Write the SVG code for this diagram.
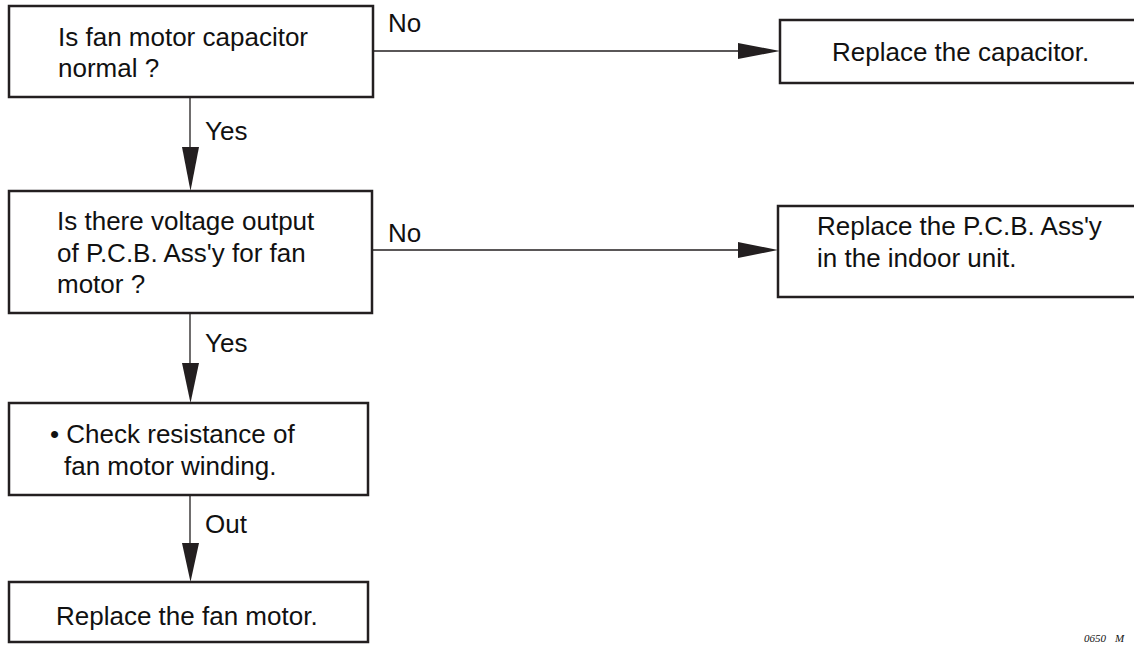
<svg xmlns="http://www.w3.org/2000/svg" width="1134" height="645" viewBox="0 0 1134 645">
<style>
.box{fill:#fff;stroke:#231f20;stroke-width:2.5}
.t{font-family:"Liberation Sans",Arial,sans-serif;font-size:26px;fill:#111}
.ln{stroke:#231f20;stroke-width:1.3;fill:none}
.ah{fill:#231f20}
.code{font-family:"Liberation Serif",serif;font-style:italic;font-size:11px;fill:#111}
</style>
<rect width="1134" height="645" fill="#fff"/>
<g id="connectors">
<line class="ln" x1="190" y1="97" x2="190" y2="150"/>
<polygon class="ah" points="182,147 199,147 190.5,191"/>
<text class="t" x="205" y="140">Yes</text>
<line class="ln" x1="190" y1="313" x2="190" y2="366"/>
<polygon class="ah" points="182,363 199,363 190.5,403"/>
<text class="t" x="205" y="352">Yes</text>
<line class="ln" x1="190" y1="495" x2="190" y2="546"/>
<polygon class="ah" points="182,543 199,543 190.5,582"/>
<text class="t" x="205" y="533">Out</text>
<line class="ln" x1="373" y1="51" x2="740" y2="51"/>
<polygon class="ah" points="738,43 738,59 780,51"/>
<text class="t" x="388" y="32">No</text>
<line class="ln" x1="372" y1="250" x2="740" y2="250"/>
<polygon class="ah" points="738,242 738,258 778,250"/>
<text class="t" x="388" y="242">No</text>
</g>
<g id="n1">
<rect class="box" x="9" y="6" width="364" height="91"/>
<text class="t" x="58" y="46">Is fan motor capacitor</text>
<text class="t" x="58" y="77">normal ?</text>
</g>
<g id="n2">
<rect class="box" x="9" y="191" width="363" height="122"/>
<text class="t" x="57" y="230">Is there voltage output</text>
<text class="t" x="57" y="262">of P.C.B. Ass'y for fan</text>
<text class="t" x="57" y="293">motor ?</text>
</g>
<g id="n3">
<rect class="box" x="9" y="403" width="359" height="92"/>
<text class="t" x="50" y="443">• Check resistance of</text>
<text class="t" x="64" y="475">fan motor winding.</text>
</g>
<g id="n4">
<rect class="box" x="9" y="582" width="359" height="60"/>
<text class="t" x="56" y="625">Replace the fan motor.</text>
</g>
<g id="n5">
<rect class="box" x="780" y="20" width="370" height="63"/>
<text class="t" x="832" y="61">Replace the capacitor.</text>
</g>
<g id="n6">
<rect class="box" x="778" y="206" width="370" height="91"/>
<text class="t" x="817" y="235">Replace the P.C.B. Ass'y</text>
<text class="t" x="817" y="267">in the indoor unit.</text>
</g>
<text class="code" x="1084" y="642">0650<tspan dx="9">M</tspan></text>
</svg>
